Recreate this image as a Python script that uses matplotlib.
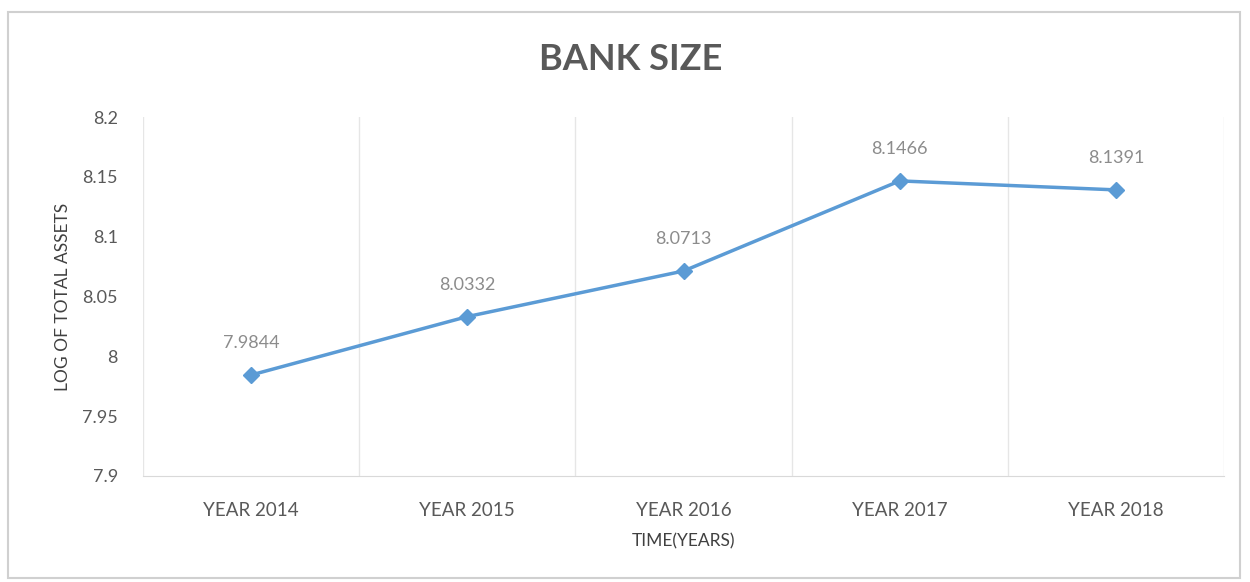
import matplotlib
matplotlib.use("Agg")
import matplotlib.pyplot as plt
from matplotlib.patches import Rectangle

years = ["YEAR 2014", "YEAR 2015", "YEAR 2016", "YEAR 2017", "YEAR 2018"]
log_assets = [7.9844, 8.0332, 8.0713, 8.1466, 8.1391]
value_labels = ["7.9844", "8.0332", "8.0713", "8.1466", "8.1391"]
y_ticks = [7.9, 7.95, 8.0, 8.05, 8.1, 8.15, 8.2]
y_tick_labels = ["7.9", "7.95", "8", "8.05", "8.1", "8.15", "8.2"]

plt.rcParams["font.family"] = ["Lato", "DejaVu Sans"]
GRAY = "#595959"
BLUE = "#5B9BD5"

fig = plt.figure(figsize=(12.5, 5.82), dpi=100)
ax = fig.add_axes([143 / 1250, 1 - 476 / 582, (1224 - 143) / 1250, (476 - 117) / 582])

x = list(range(len(years)))
ax.plot(x, log_assets, "-", color=BLUE, lw=2.5, marker="D", ms=8, zorder=3)
for xi, yi, s in zip(x, log_assets, value_labels):
    ax.annotate(s, (xi, yi), xytext=(0, 17), textcoords="offset points",
                ha="center", va="bottom", fontsize=13, color="#8c8c8c")

ax.set_xlim(-0.5, len(years) - 0.5)
ax.set_ylim(7.9, 8.2)
ax.set_yticks(y_ticks)
ax.set_yticklabels(y_tick_labels, fontsize=13, color=GRAY)
ax.set_xticks(x)
ax.set_xticklabels(years, fontsize=13.5, color=GRAY)
ax.tick_params(length=0)
ax.tick_params(axis="x", pad=19)
ax.tick_params(axis="y", pad=18)

for b in [i - 0.5 for i in range(len(years) + 1)]:
    ax.axvline(b, color="#e6e6e6", lw=1, zorder=1)
for side in ["top", "right", "left"]:
    ax.spines[side].set_visible(False)
ax.spines["bottom"].set_color("#d9d9d9")

ax.set_ylabel("LOG OF TOTAL ASSETS", fontsize=12.5, color="#404040", labelpad=8)
ax.set_xlabel("TIME(YEARS)", fontsize=12.5, color="#404040", labelpad=10)
fig.text(631 / 1250, 1 - 60 / 582, "BANK SIZE", ha="center", va="center",
         fontsize=26, fontweight="bold", color=GRAY)

fig.patches.append(Rectangle((8 / 1250, 1 - 578 / 582), 1232 / 1250, 566 / 582,
                             transform=fig.transFigure, fill=False,
                             edgecolor="#d0d0d0", lw=1.5))

fig.savefig("out.png", dpi=100)
